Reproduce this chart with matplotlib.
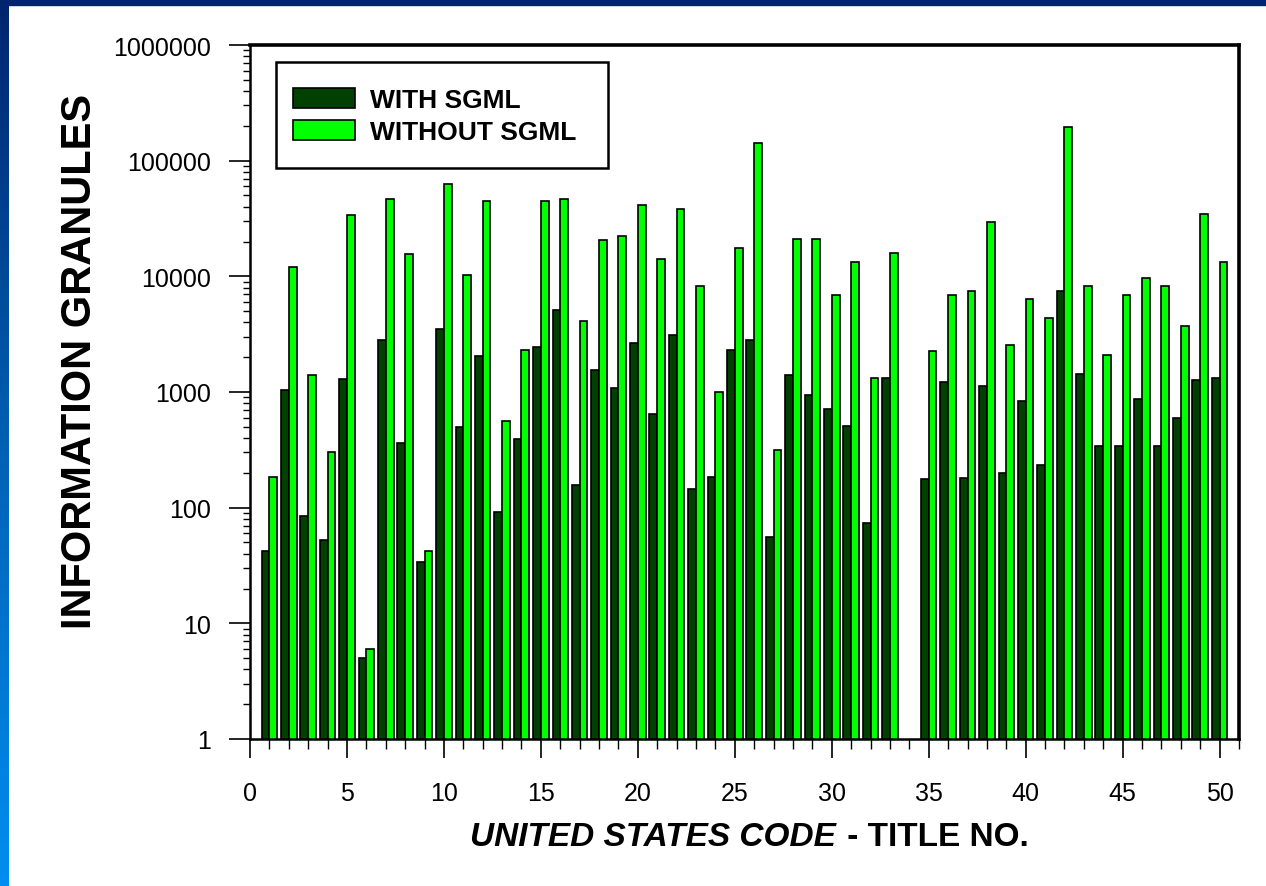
import matplotlib.pyplot as plt
import numpy as np
from matplotlib.colors import LinearSegmentedColormap
from matplotlib.patches import Rectangle
from matplotlib.ticker import FixedLocator, LogLocator, NullFormatter

plt.rcParams['font.family'] = ['Liberation Sans', 'DejaVu Sans']

# US Code title numbers (title 34 has no data)
titles = [1, 2, 3, 4, 5, 6, 7, 8, 9, 10, 11, 12, 13, 14, 15, 16, 17, 18, 19, 20,
          21, 22, 23, 24, 25, 26, 27, 28, 29, 30, 31, 32, 33, 35, 36, 37, 38, 39, 40,
          41, 42, 43, 44, 45, 46, 47, 48, 49, 50]

with_sgml = [42, 1040, 84, 53, 1300, 5, 2830, 360, 34, 3480,
             500, 2030, 91, 392, 2430, 5090, 157, 1540, 1090, 2630,
             640, 3090, 145, 184, 2300, 2820, 56, 1390, 950, 715,
             510, 74, 1310, 177, 1215, 182, 1125, 198, 840,
             235, 7520, 1430, 340, 340, 877, 340, 600, 1270, 1320]

without_sgml = [185, 12000, 1400, 300, 34000, 6, 47000, 15500, 42, 63000,
                10200, 45000, 560, 2300, 45000, 47000, 4100, 20500, 22500, 41500,
                14200, 38500, 8300, 1010, 17500, 143000, 315, 21000, 21000, 6900,
                13300, 1320, 15800, 2280, 6900, 7500, 29500, 2550, 6350,
                4400, 196000, 8200, 2080, 6900, 9600, 8200, 3720, 34500, 13300]

ytick_values = [1, 10, 100, 1000, 10000, 100000, 1000000]
ytick_labels = ['1', '10', '100', '1000', '10000', '100000', '1000000']

fig = plt.figure(figsize=(12.66, 8.87), dpi=100)
fig.patch.set_facecolor('white')

# blue slide frame: gradient strip on the left, dark bar on top
grad_ax = fig.add_axes([0, 0, 9 / 1266, 1])
cmap = LinearSegmentedColormap.from_list('frame', ['#00246e', '#0060b4', '#008ef0'])
grad_ax.imshow(np.linspace(0, 1, 256).reshape(-1, 1), aspect='auto', cmap=cmap,
               extent=[0, 1, 0, 1], origin='upper')
grad_ax.axis('off')
fig.add_artist(Rectangle((0, 1 - 6 / 887), 1, 6 / 887, transform=fig.transFigure,
                         color='#00246e', zorder=5))

ax = fig.add_axes([250 / 1266, 1 - 740 / 887, 989 / 1266, 694 / 887])

x = np.array(titles)
w = 0.4
ax.bar(x - w / 2, with_sgml, width=w, color='#004000', edgecolor='black',
       linewidth=1.2, label='WITH SGML')
ax.bar(x + w / 2, without_sgml, width=w, color='#00ff00', edgecolor='black',
       linewidth=1.2, label='WITHOUT SGML')

ax.set_yscale('log')
ax.set_ylim(1, 1000000)
ax.set_xlim(0, 51)

ax.yaxis.set_major_locator(FixedLocator(ytick_values))
ax.set_yticklabels(ytick_labels)
ax.yaxis.set_minor_locator(LogLocator(base=10, subs=np.arange(2, 10)))
ax.yaxis.set_minor_formatter(NullFormatter())
ax.set_xticks(np.arange(0, 51, 5))
ax.set_xticks(np.arange(0, 52, 1), minor=True)

ax.tick_params(axis='y', which='major', length=15, width=1.2, pad=13, labelsize=18)
ax.tick_params(axis='y', which='minor', length=5, width=1)
ax.tick_params(axis='x', which='major', length=14, width=1.2, pad=16, labelsize=18)
ax.tick_params(axis='x', which='minor', length=7, width=1)

for side in ['top', 'right']:
    ax.spines[side].set_linewidth(2.6)
for side in ['left', 'bottom']:
    ax.spines[side].set_linewidth(1.8)

ax.set_ylabel('INFORMATION GRANULES', fontsize=30, fontweight='bold')
ax.yaxis.set_label_coords(-0.152, 0.545)

# x label with italic first part
fig.text(836 / 1266, 1 - 838 / 887, 'UNITED STATES CODE', fontsize=24,
         fontweight='bold', fontstyle='italic', ha='right', va='center')
fig.text(838 / 1266, 1 - 838 / 887, ' - TITLE NO.', fontsize=24,
         fontweight='bold', ha='left', va='center')

# legend box drawn separately so the padding can differ per side
box = Rectangle(((276 - 250) / 989, (740 - 169) / 694), 332 / 989, 106 / 694,
                transform=ax.transAxes, facecolor='white', edgecolor='black',
                linewidth=1.8, zorder=4)
ax.add_patch(box)
leg = ax.legend(loc='upper left', bbox_to_anchor=((293 - 250) / 989, (740 - 89) / 694),
                borderaxespad=0, borderpad=0, frameon=False,
                prop={'weight': 'bold', 'size': 19}, handlelength=2.35,
                handleheight=0.78, handletextpad=0.55, labelspacing=0.3)
leg.set_zorder(5)

fig.savefig('out.png', dpi=100)
